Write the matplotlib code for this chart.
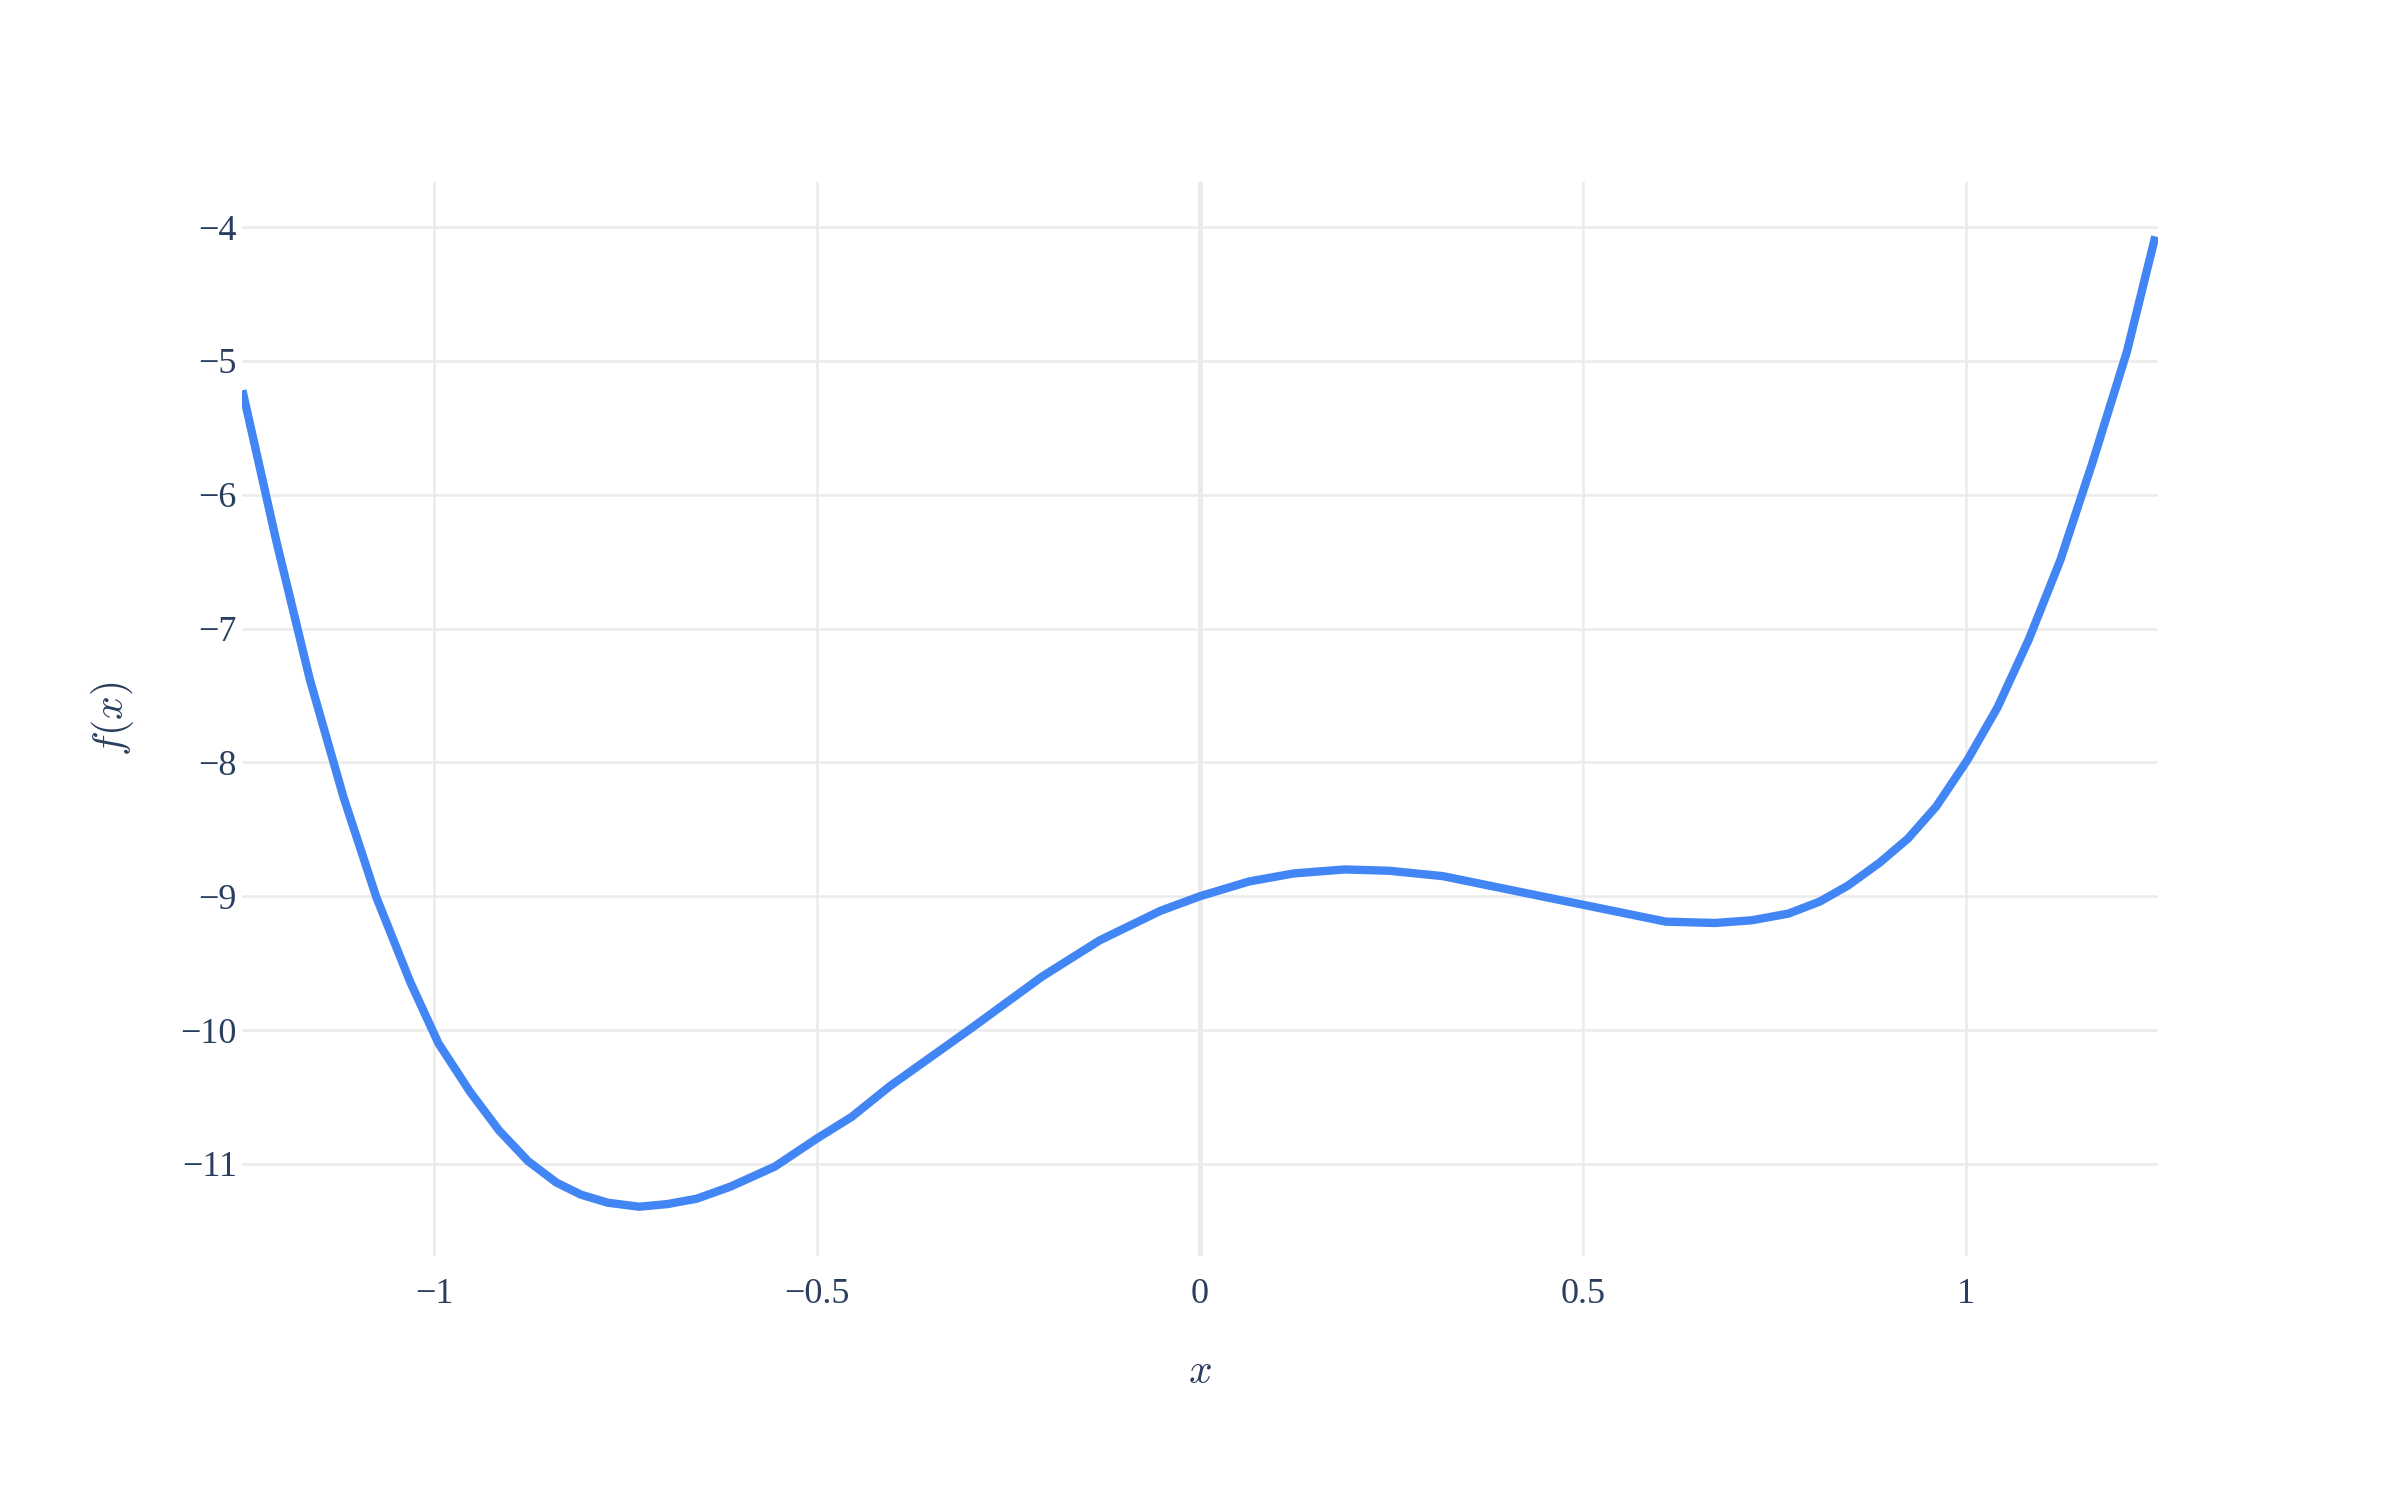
import matplotlib
matplotlib.use("Agg")
import matplotlib.pyplot as plt
import numpy as np

# values
x_vals = [-1.25, -1.206, -1.162, -1.118, -1.075, -1.031, -0.994, -0.953, -0.915,
          -0.877, -0.840, -0.808, -0.773, -0.732, -0.695, -0.657, -0.613, -0.555,
          -0.500, -0.455, -0.405, -0.297, -0.206, -0.131, -0.052, 0.0, 0.064,
          0.122, 0.189, 0.247, 0.317, 0.608, 0.672, 0.720, 0.768, 0.809, 0.846,
          0.887, 0.924, 0.961, 1.002, 1.041, 1.082, 1.123, 1.165, 1.210, 1.247]
y_vals = [-5.22, -6.34, -7.38, -8.26, -9.01, -9.64, -10.10, -10.46, -10.75,
          -10.98, -11.14, -11.23, -11.29, -11.32, -11.30, -11.26, -11.17, -11.02,
          -10.81, -10.65, -10.42, -9.98, -9.60, -9.33, -9.11, -9.00, -8.89,
          -8.83, -8.80, -8.81, -8.85, -9.19, -9.20, -9.18, -9.13, -9.04, -8.92,
          -8.75, -8.57, -8.33, -7.98, -7.59, -7.08, -6.49, -5.76, -4.93, -4.07]

x_ticks = [-1, -0.5, 0, 0.5, 1]
x_ticklabels = ["\u22121", "\u22120.5", "0", "0.5", "1"]
y_ticks = [-11, -10, -9, -8, -7, -6, -5, -4]
y_ticklabels = ["\u221211", "\u221210", "\u22129", "\u22128", "\u22127", "\u22126", "\u22125", "\u22124"]

plt.rcParams["mathtext.fontset"] = "cm"
text_color = "#2a3f5f"
grid_color = "#ebebeb"

fig = plt.figure(figsize=(12, 7.5), dpi=200)
ax = fig.add_axes([0.101, 0.1625, 0.798, 0.7165])

ax.plot(x_vals, y_vals, color="#4285f4", lw=3.0, solid_capstyle="butt", zorder=3)

ax.set_xlim(-1.25, 1.25)
ax.set_ylim(-11.69, -3.66)

ax.set_xticks(x_ticks)
ax.set_xticklabels(x_ticklabels, family="Liberation Serif", fontsize=13, color=text_color)
ax.set_yticks(y_ticks)
ax.set_yticklabels(y_ticklabels, family="Liberation Serif", fontsize=13, color=text_color)
ax.tick_params(length=0)
ax.tick_params(axis="x", pad=8)
ax.tick_params(axis="y", pad=2)

ax.grid(True, color=grid_color, lw=0.9)
ax.axvline(0, color=grid_color, lw=1.8, zorder=1)
ax.set_axisbelow(True)
for s in ax.spines.values():
    s.set_visible(False)

ax.set_xlabel(r"$x$", fontsize=15, color=text_color, labelpad=14)
ax.set_ylabel(r"$f(x)$", fontsize=15, color=text_color, labelpad=16)

fig.savefig("out.png", dpi=200, facecolor="white")
